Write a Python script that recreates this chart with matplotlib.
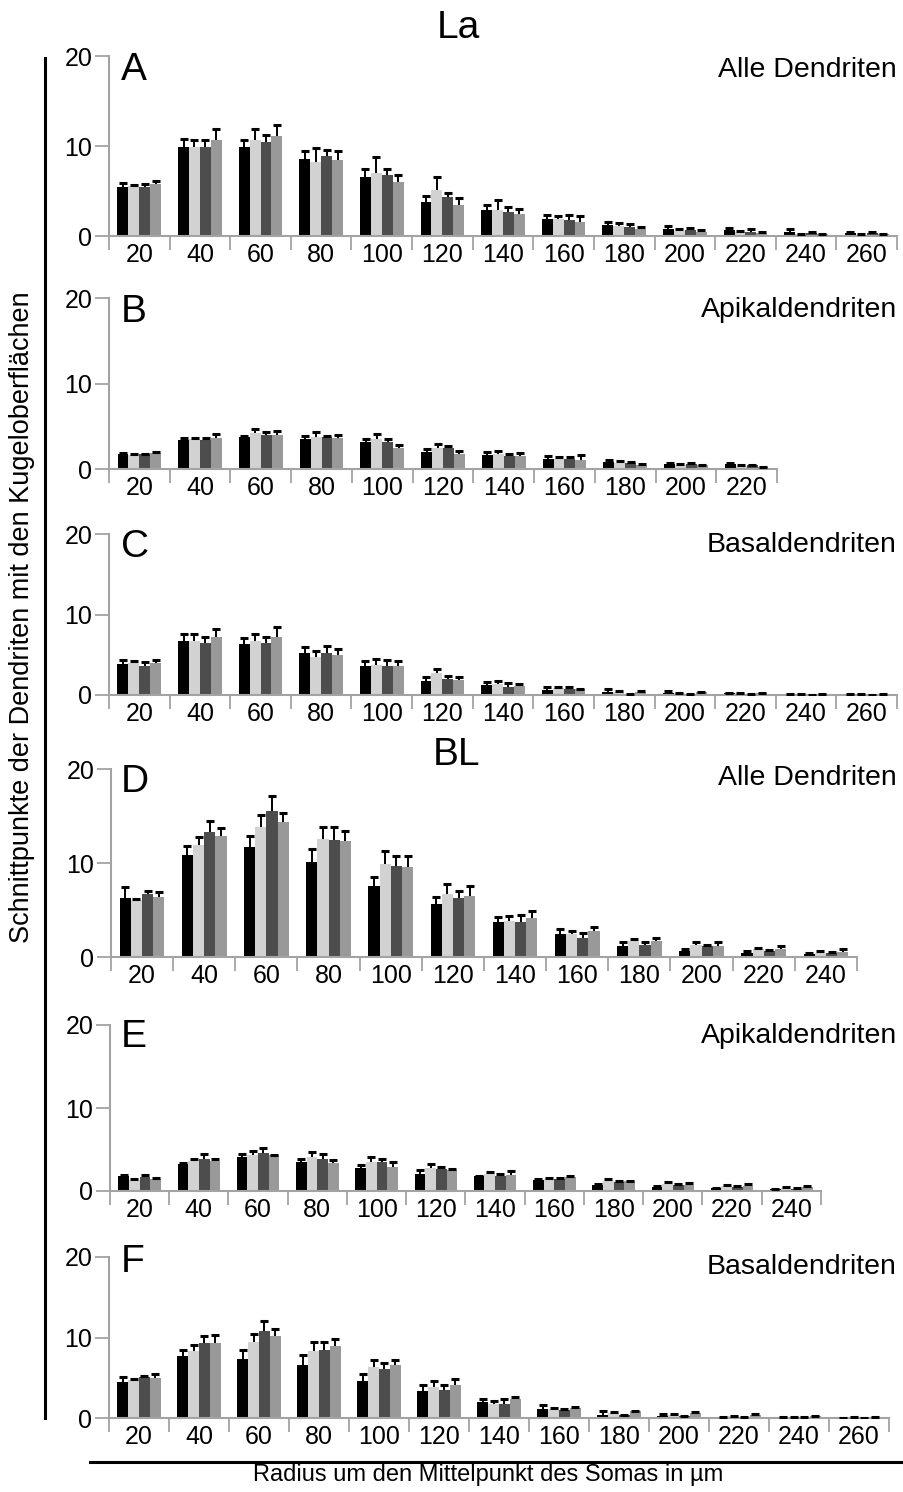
import matplotlib
matplotlib.use("Agg")
import matplotlib.pyplot as plt
from matplotlib.lines import Line2D
import numpy as np

plt.rcParams['font.family'] = ['Liberation Sans', 'DejaVu Sans']

# Radius (µm) - Beschriftung der Gruppen
radien_13 = [20, 40, 60, 80, 100, 120, 140, 160, 180, 200, 220, 240, 260]
radien_12 = [20, 40, 60, 80, 100, 120, 140, 160, 180, 200, 220, 240]
radien_11 = [20, 40, 60, 80, 100, 120, 140, 160, 180, 200, 220]

# Reihenfolge der Serien: schwarz, hellgrau, dunkelgrau, mittelgrau
SERIEN_FARBEN = ['#000000', '#d2d2d2', '#4d4d4d', '#999999']

# --- La ---
a_mittel = [
    [5.5, 9.9, 9.85, 8.6, 6.6, 3.8, 2.9, 1.85, 1.2, 0.75, 0.65, 0.5, 0.3],
    [5.55, 9.9, 10.7, 8.25, 7.05, 5.1, 2.9, 1.9, 1.1, 0.6, 0.45, 0.2, 0.15],
    [5.4, 9.85, 10.4, 8.9, 6.8, 4.35, 2.7, 1.8, 0.95, 0.65, 0.5, 0.3, 0.3],
    [5.75, 10.7, 11.1, 8.45, 6.0, 3.5, 2.4, 1.55, 0.75, 0.5, 0.35, 0.2, 0.2],
]
a_fehler = [
    [0.4, 0.9, 0.8, 0.85, 0.9, 0.65, 0.55, 0.5, 0.4, 0.35, 0.25, 0.3, 0.1],
    [0.1, 0.8, 1.15, 1.5, 1.7, 1.5, 1.1, 0.3, 0.4, 0.15, 0.1, 0.05, 0.03],
    [0.4, 0.85, 0.8, 0.65, 0.65, 0.45, 0.55, 0.5, 0.35, 0.25, 0.25, 0.15, 0.1],
    [0.4, 1.15, 1.2, 1.0, 0.8, 0.75, 0.65, 0.65, 0.2, 0.2, 0.1, 0.05, 0.03],
]

b_mittel = [
    [1.75, 3.4, 3.7, 3.5, 3.1, 2.0, 1.65, 1.15, 0.85, 0.6, 0.6],
    [1.6, 3.5, 4.2, 3.7, 3.5, 2.4, 1.75, 1.15, 0.75, 0.45, 0.4],
    [1.7, 3.4, 4.0, 3.7, 3.1, 2.4, 1.5, 1.15, 0.65, 0.55, 0.45],
    [1.85, 3.6, 4.0, 3.6, 2.4, 1.7, 1.5, 1.05, 0.45, 0.45, 0.2],
]
b_fehler = [
    [0.1, 0.25, 0.15, 0.4, 0.4, 0.3, 0.35, 0.4, 0.2, 0.07, 0.07],
    [0.15, 0.15, 0.45, 0.6, 0.55, 0.55, 0.3, 0.25, 0.2, 0.15, 0.05],
    [0.1, 0.25, 0.35, 0.15, 0.4, 0.3, 0.3, 0.2, 0.15, 0.15, 0.05],
    [0.15, 0.45, 0.5, 0.35, 0.35, 0.45, 0.4, 0.55, 0.12, 0.05, 0.04],
]

c_mittel = [
    [3.8, 6.65, 6.3, 5.2, 3.55, 1.8, 1.2, 0.6, 0.4, 0.3, 0.2, 0.15, 0.08],
    [3.95, 6.75, 6.65, 4.75, 3.75, 2.7, 1.35, 0.85, 0.4, 0.2, 0.2, 0.12, 0.1],
    [3.65, 6.45, 6.45, 5.25, 3.6, 2.0, 1.05, 0.75, 0.1, 0.05, 0.05, 0.03, 0.02],
    [4.0, 7.2, 7.25, 5.0, 3.6, 1.85, 1.15, 0.7, 0.4, 0.35, 0.25, 0.15, 0.15],
]
c_fehler = [
    [0.5, 0.9, 0.75, 0.75, 0.7, 0.4, 0.4, 0.4, 0.3, 0.15, 0.08, 0.03, 0.02],
    [0.3, 0.85, 0.9, 0.75, 0.75, 0.55, 0.35, 0.2, 0.1, 0.04, 0.03, 0.02, 0.02],
    [0.5, 0.8, 0.8, 0.85, 0.7, 0.4, 0.5, 0.3, 0.03, 0.02, 0.02, 0.01, 0.01],
    [0.4, 1.0, 1.15, 0.7, 0.65, 0.4, 0.2, 0.1, 0.08, 0.05, 0.05, 0.03, 0.03],
]

# --- BL ---
d_mittel = [
    [6.25, 10.9, 11.65, 10.15, 7.55, 5.6, 3.75, 2.5, 1.15, 0.65, 0.45, 0.3],
    [6.05, 11.9, 13.8, 12.55, 9.85, 6.7, 3.8, 2.45, 1.65, 1.25, 0.8, 0.45],
    [6.65, 13.25, 15.5, 12.45, 9.7, 6.3, 3.75, 2.05, 1.3, 1.15, 0.6, 0.45],
    [6.35, 12.9, 14.4, 12.35, 9.6, 6.5, 4.15, 2.75, 1.7, 1.15, 0.8, 0.5],
]
d_fehler = [
    [1.25, 0.9, 1.2, 1.35, 1.0, 0.8, 0.55, 0.45, 0.4, 0.25, 0.2, 0.08],
    [0.07, 0.9, 1.3, 1.25, 1.4, 1.05, 0.6, 0.35, 0.3, 0.3, 0.2, 0.2],
    [0.35, 1.25, 1.65, 1.35, 1.0, 0.75, 0.75, 0.5, 0.25, 0.1, 0.12, 0.1],
    [0.55, 0.85, 0.95, 1.1, 1.1, 1.05, 0.75, 0.4, 0.35, 0.4, 0.4, 0.35],
]

e_mittel = [
    [1.8, 3.3, 4.1, 3.5, 2.8, 2.0, 1.75, 1.3, 0.75, 0.5, 0.35, 0.25],
    [1.3, 3.6, 4.3, 4.1, 3.5, 2.8, 2.1, 1.5, 1.25, 0.8, 0.65, 0.4],
    [1.7, 3.8, 4.6, 3.8, 3.5, 2.6, 1.8, 1.4, 1.1, 0.75, 0.5, 0.3],
    [1.4, 3.6, 4.3, 3.4, 2.95, 2.5, 1.95, 1.7, 1.15, 0.75, 0.65, 0.45],
]
e_fehler = [
    [0.08, 0.08, 0.4, 0.3, 0.3, 0.55, 0.05, 0.1, 0.07, 0.07, 0.07, 0.04],
    [0.1, 0.3, 0.5, 0.55, 0.6, 0.45, 0.15, 0.08, 0.15, 0.3, 0.12, 0.08],
    [0.25, 0.6, 0.6, 0.6, 0.4, 0.35, 0.3, 0.15, 0.12, 0.1, 0.08, 0.08],
    [0.12, 0.3, 0.05, 0.3, 0.55, 0.2, 0.4, 0.12, 0.08, 0.2, 0.15, 0.15],
]

f_mittel = [
    [4.45, 7.65, 7.35, 6.55, 4.65, 3.4, 2.0, 1.15, 0.35, 0.2, 0.12, 0.05, 0.02],
    [4.75, 8.35, 9.5, 8.35, 6.3, 3.8, 1.75, 1.1, 0.65, 0.4, 0.25, 0.15, 0.08],
    [5.05, 9.3, 10.75, 8.4, 6.1, 3.5, 1.75, 0.95, 0.35, 0.2, 0.05, 0.05, 0.02],
    [4.95, 9.3, 10.15, 8.9, 6.55, 4.05, 2.3, 1.25, 0.85, 0.6, 0.4, 0.2, 0.12],
]
f_fehler = [
    [0.6, 0.75, 1.05, 1.3, 0.8, 0.65, 0.35, 0.5, 0.5, 0.25, 0.05, 0.03, 0.01],
    [0.12, 0.75, 0.95, 1.05, 0.95, 0.75, 0.3, 0.15, 0.1, 0.05, 0.04, 0.03, 0.02],
    [0.2, 0.9, 1.3, 1.05, 0.75, 0.55, 0.55, 0.12, 0.03, 0.03, 0.02, 0.02, 0.01],
    [0.5, 0.95, 0.95, 0.9, 0.7, 0.75, 0.25, 0.1, 0.08, 0.1, 0.05, 0.03, 0.02],
]

W, H = 904, 1492
ACHSE_GRAU = '#a3a3a3'

fig = plt.figure(figsize=(W / 100, H / 100), dpi=100)


def px_achse(links, rechts, oben, unten):
    # Pixelrahmen -> Figurkoordinaten
    return fig.add_axes([links / W, 1 - unten / H, (rechts - links) / W, (unten - oben) / H])


def panel(rahmen, radien, mittel, fehler, buchstabe, titel, titel_y, buchst_y):
    ax = px_achse(*rahmen)
    n = len(radien)
    x = np.arange(n) + 0.5
    bw = 0.18
    for i in range(4):
        xi = x + (i - 1.5) * bw
        m = np.array(mittel[i])
        oben = m + np.array(fehler[i])
        ax.bar(xi, m, width=bw, color=SERIEN_FARBEN[i], zorder=2, linewidth=0)
        # Fehlerbalken nur nach oben, mit Kappe oben
        ax.vlines(xi, m, oben, colors='black', linewidth=1.4, zorder=3)
        ax.plot(xi, oben, ls='none', marker='_', markersize=6, markeredgewidth=2.2,
                color='black', zorder=3)
    ax.set_xlim(0, n)
    ax.set_ylim(0, 20)
    ax.set_yticks([0, 10, 20])
    ax.set_xticks(x)
    ax.set_xticklabels([str(r) for r in radien])
    ax.set_xticks(np.arange(n + 1), minor=True)
    ax.tick_params(axis='x', which='major', length=0, pad=5, labelsize=18)
    ax.tick_params(axis='x', which='minor', length=10, width=1.3, color=ACHSE_GRAU, direction='out')
    ax.tick_params(axis='y', length=10, width=1.3, color=ACHSE_GRAU, pad=2, labelsize=18)
    for s in ['top', 'right']:
        ax.spines[s].set_visible(False)
    for s in ['left', 'bottom']:
        ax.spines[s].set_color(ACHSE_GRAU)
        ax.spines[s].set_linewidth(1.5)
    ax.set_facecolor('none')
    fig.text(897 / W, 1 - titel_y / H, titel, ha='right', va='center', fontsize=20.5)
    fig.text(121 / W, 1 - buchst_y / H, buchstabe, ha='left', va='center', fontsize=28)
    return ax


panel((109, 897, 56, 236), radien_13, a_mittel, a_fehler, 'A', 'Alle Dendriten', 70, 70)
panel((109, 777, 298, 469), radien_11, b_mittel, b_fehler, 'B', 'Apikaldendriten', 310, 312)
panel((109, 897, 534, 695), radien_13, c_mittel, c_fehler, 'C', 'Basaldendriten', 545, 547)
panel((111, 857, 769, 957), radien_12, d_mittel, d_fehler, 'D', 'Alle Dendriten', 778, 782)
panel((110, 821, 1025, 1191), radien_12, e_mittel, e_fehler, 'E', 'Apikaldendriten', 1036, 1037)
panel((109, 889, 1257, 1418), radien_13, f_mittel, f_fehler, 'F', 'Basaldendriten', 1267, 1262)

# Gruppentitel
fig.text(458 / W, 1 - 28 / H, 'La', ha='center', va='center', fontsize=28)
fig.text(457 / W, 1 - 755 / H, 'BL', ha='center', va='center', fontsize=28)

# Achsenbeschriftungen mit Linien
fig.add_artist(Line2D([45 / W, 45 / W], [1 - 58 / H, 1 - 1418 / H], transform=fig.transFigure,
                      color='black', lw=2.2))
fig.add_artist(Line2D([90 / W, 1.0], [1 - 1462 / H, 1 - 1462 / H], transform=fig.transFigure,
                      color='black', lw=2.2))
fig.text(22 / W, 1 - 617 / H, 'Schnittpunkte der Dendriten mit den Kugeloberflächen',
         rotation=90, ha='center', va='center', fontsize=19.5)
fig.text(488 / W, 1 - 1475 / H, 'Radius um den Mittelpunkt des Somas in µm',
         ha='center', va='center', fontsize=17)

fig.savefig('out.png', dpi=100)
